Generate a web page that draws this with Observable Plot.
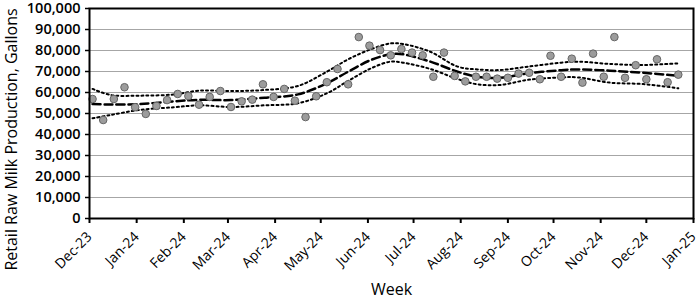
<!DOCTYPE html>
<html>
<head>
<meta charset="utf-8">
<script src="https://cdn.jsdelivr.net/npm/d3@7"></script>
<script src="https://cdn.jsdelivr.net/npm/@observablehq/plot@0.6"></script>
<style>
  body { margin: 0; background: #fff; }
</style>
</head>
<body>
<div id="chart"></div>
<script>
// Weekly retail raw milk production (gallons)
const weeks = [
  "2023-12-03","2023-12-10","2023-12-17","2023-12-24","2023-12-31",
  "2024-01-07","2024-01-14","2024-01-21","2024-01-28",
  "2024-02-04","2024-02-11","2024-02-18","2024-02-25",
  "2024-03-03","2024-03-10","2024-03-17","2024-03-24","2024-03-31",
  "2024-04-07","2024-04-14","2024-04-21","2024-04-28",
  "2024-05-05","2024-05-12","2024-05-19","2024-05-26",
  "2024-06-02","2024-06-09","2024-06-16","2024-06-23","2024-06-30",
  "2024-07-07","2024-07-14","2024-07-21","2024-07-28",
  "2024-08-04","2024-08-11","2024-08-18","2024-08-25",
  "2024-09-01","2024-09-08","2024-09-15","2024-09-22","2024-09-29",
  "2024-10-06","2024-10-13","2024-10-20","2024-10-27",
  "2024-11-03","2024-11-10","2024-11-17","2024-11-24",
  "2024-12-01","2024-12-08","2024-12-15","2024-12-22"
];
const gallons = [
  56900, 46900, 56900, 62500, 53000,
  49800, 53600, 56400, 59300,
  58300, 54200, 57900, 60700,
  53100, 55800, 56600, 63900, 57900,
  61700, 56100, 48300, 58200,
  64900, 71200, 63900, 86400,
  82300, 80200, 77700, 80700, 79000,
  77700, 67500, 79000, 67900,
  65300, 67500, 67500, 66600,
  67000, 69000, 69400, 66300, 77500,
  67500, 76100, 64700, 78500,
  67500, 86400, 67000, 73000,
  66300, 75800, 64900, 68500
];

// Smoothed trend and its confidence band
const fitDates = [
  "2023-12-03","2023-12-15","2024-01-03","2024-01-26","2024-02-11",
  "2024-03-03","2024-03-25","2024-04-16","2024-05-05","2024-05-19",
  "2024-06-03","2024-06-16","2024-06-24","2024-07-12","2024-07-30",
  "2024-08-12","2024-08-27","2024-09-14","2024-10-06","2024-10-17",
  "2024-11-07","2024-11-29","2024-12-22"
];
const fitMid = [
  54500, 54300, 54500, 55800, 56500,
  56400, 57500, 59100, 64400, 69900,
  75500, 78200, 78200, 74700, 69900,
  67500, 67000, 69100, 70600, 71000,
  70400, 69400, 67900
];
const fitUpper = [
  61700, 58800, 58500, 59100, 60900,
  60700, 61200, 63100, 69900, 75800,
  80600, 83400, 83100, 79400, 72300,
  71000, 70700, 72300, 74200, 74700,
  73600, 73100, 73900
];
const fitLower = [
  47700, 49300, 51700, 53000, 53900,
  53100, 53900, 54900, 59600, 65500,
  71500, 74700, 74200, 71200, 66400,
  63900, 63600, 66000, 67200, 67200,
  64700, 64000, 62000
];

// Axis ticks and labels
const monthTicks = [
  "2023-12-01","2024-01-01","2024-02-01","2024-03-01","2024-04-01",
  "2024-05-01","2024-06-01","2024-07-01","2024-08-01","2024-09-01",
  "2024-10-01","2024-11-01","2024-12-01","2025-01-01"
];
const yTicks = [0, 10000, 20000, 30000, 40000, 50000, 60000, 70000, 80000, 90000, 100000];
const yLabel = "Retail Raw Milk Production, Gallons";
const xLabel = "Week";

const parse = d3.utcParse("%Y-%m-%d");
const obs = weeks.map((w, i) => ({date: parse(w), value: gallons[i]}));
const fit = fitDates.map((d, i) => ({date: parse(d), mid: fitMid[i], hi: fitUpper[i], lo: fitLower[i]}));
const months = monthTicks.map(parse);

const dotted = {curve: "catmull-rom", stroke: "#000", strokeWidth: 2, strokeDasharray: "2,3"};

const chart = Plot.plot({
  width: 700,
  height: 301,
  marginLeft: 89,
  marginRight: 7,
  marginTop: 8,
  marginBottom: 83,
  style: {fontFamily: "'Open Sans', sans-serif", fontSize: "14px", color: "#000", background: "#fff"},
  x: {type: "utc", domain: [months[0], months[months.length - 1]]},
  y: {domain: [0, 100000]},
  marks: [
    Plot.gridY(yTicks, {stroke: "#a6a6a6", strokeOpacity: 1, strokeWidth: 1.2}),
    Plot.axisY(yTicks, {tickFormat: d3.format(","), tickSize: 4, tickPadding: 5, fontSize: 14.5, fontWeight: 600, strokeWidth: 1.5, label: null}),
    Plot.axisX(months, {tickFormat: d3.utcFormat("%b-%y"), tickRotate: -45, tickSize: 5, tickPadding: 11, fontSize: 14, strokeWidth: 2, label: null}),
    Plot.line(fit, {x: "date", y: "hi", ...dotted}),
    Plot.line(fit, {x: "date", y: "lo", ...dotted}),
    Plot.line(fit, {x: "date", y: "mid", curve: "catmull-rom", stroke: "#000", strokeWidth: 2.5, strokeDasharray: "8,4"}),
    Plot.dot(obs, {x: "date", y: "value", r: 3.8, fill: "#9c9c9c", stroke: "#666", strokeWidth: 1}),
    Plot.frame({stroke: "#000", strokeWidth: 2}),
    Plot.text([yLabel], {frameAnchor: "left", textAnchor: "middle", rotate: -90, dx: -78, dy: 26, fontSize: 16}),
    Plot.text([xLabel], {frameAnchor: "bottom", dy: 76, fontSize: 16})
  ]
});
document.getElementById("chart").append(chart);
</script>
</body>
</html>
